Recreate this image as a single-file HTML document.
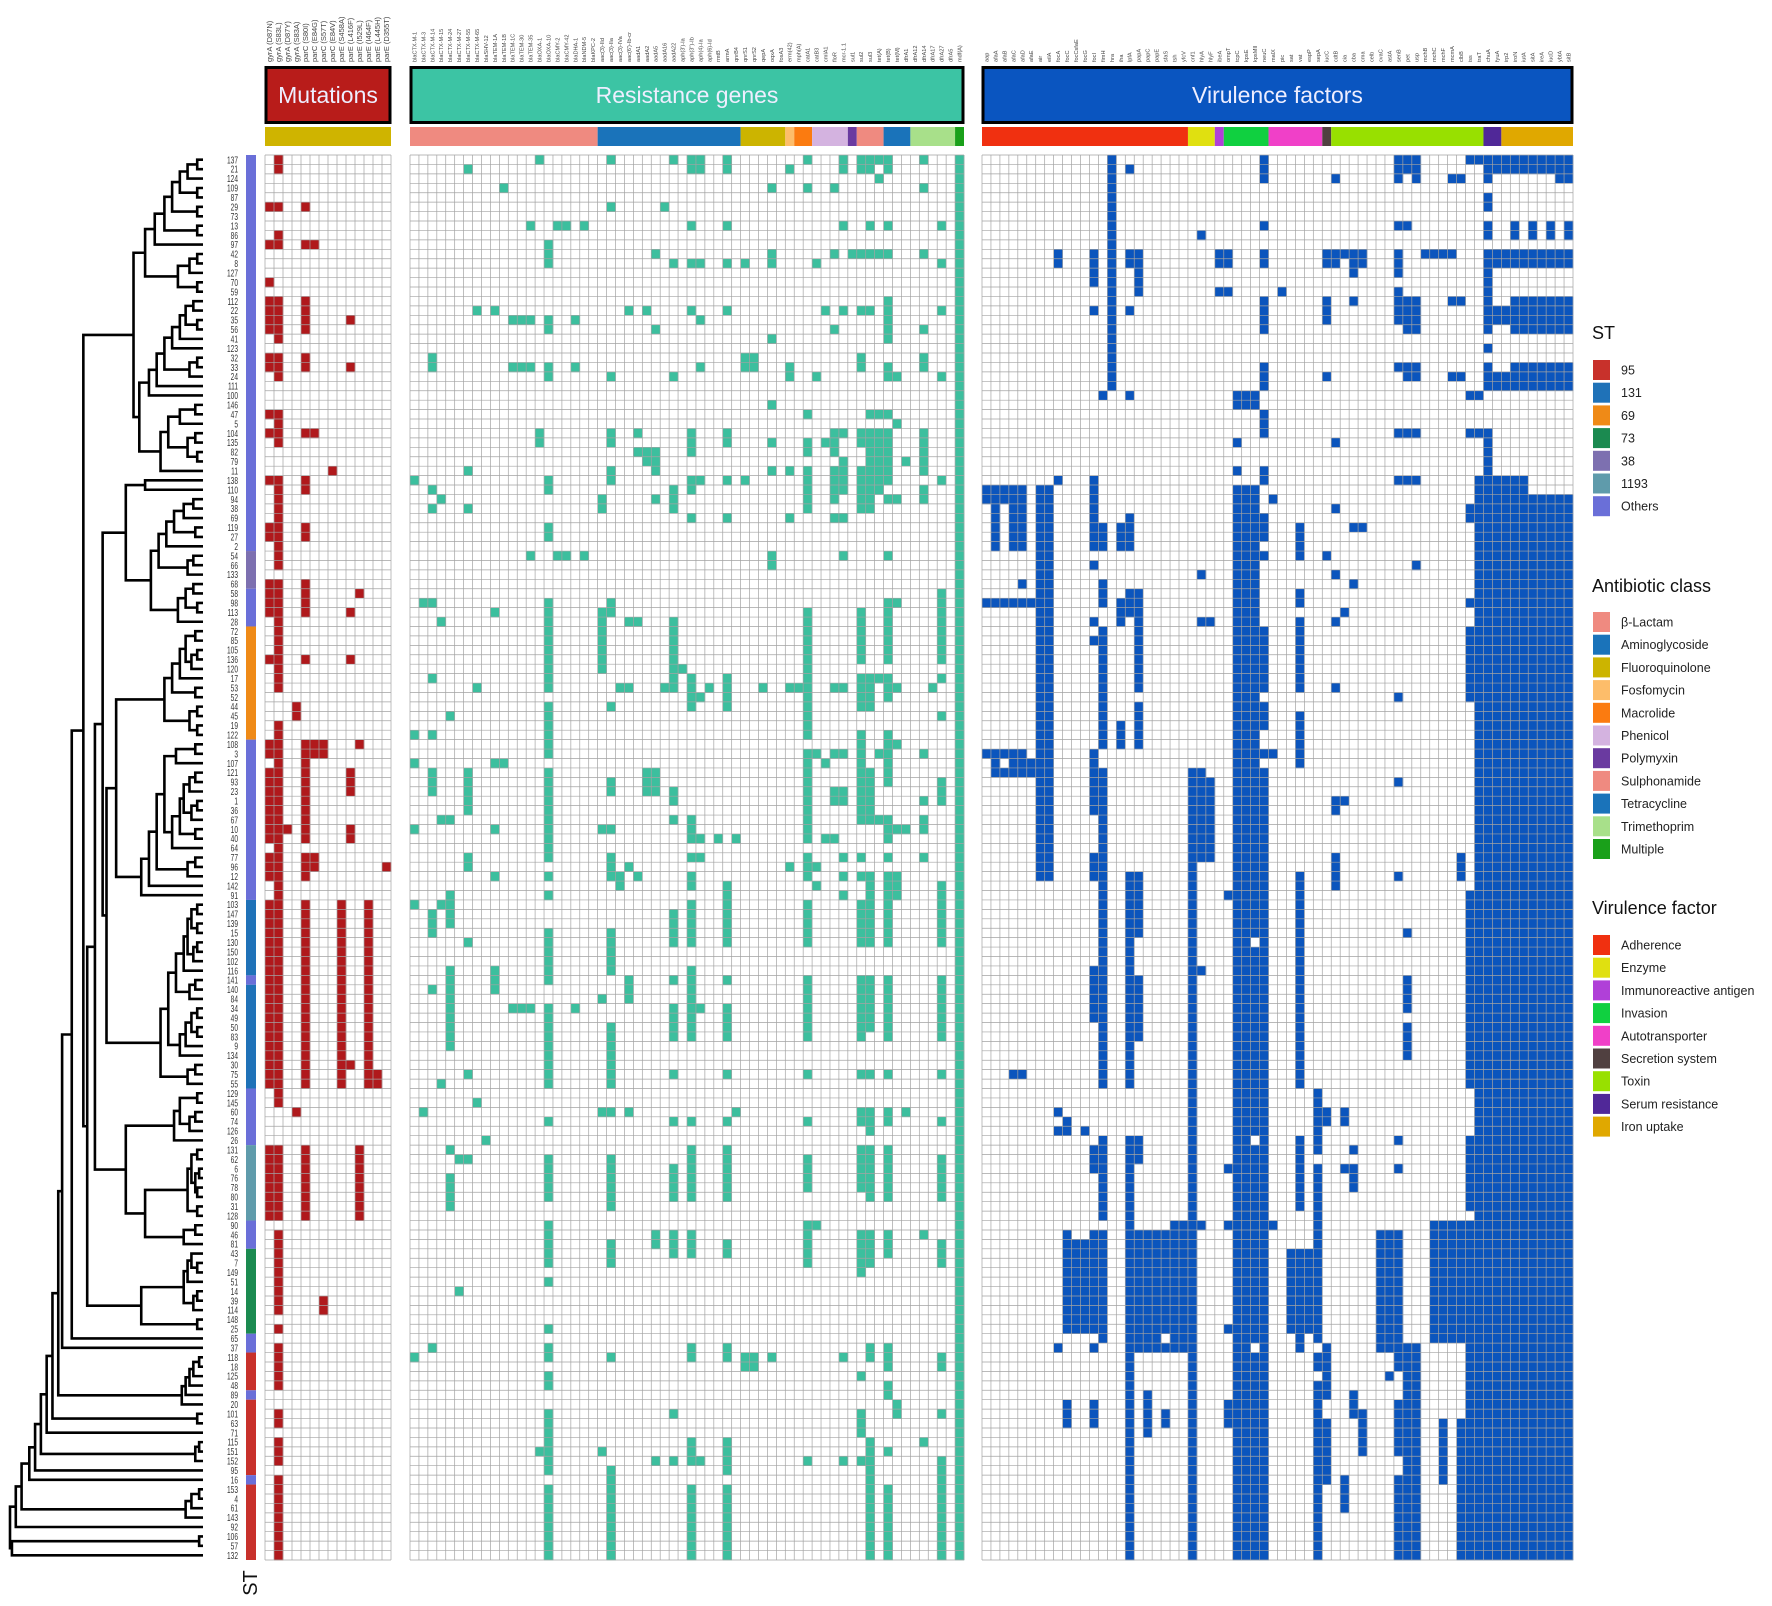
<!DOCTYPE html>
<html><head><meta charset="utf-8">
<style>
html,body{margin:0;padding:0;background:#fff;}
svg{display:block;font-family:"Liberation Sans",Arial,sans-serif;}
</style></head>
<body>
<svg id="chart" width="1772" height="1606" viewBox="0 0 1772 1606" xmlns="http://www.w3.org/2000/svg">
<rect x="0" y="0" width="1772" height="1606" fill="#fff"/>
<g id="dendro"></g>
<g id="rowlabels"></g>
<g id="stbar"></g>
<g id="panels"></g>
<g id="legend"></g>
<text x="257" y="1583" font-size="20" fill="#111" transform="rotate(-90 257 1583)" text-anchor="middle">ST</text>
</svg>
<script>
const rowIds = [137,21,124,109,87,29,73,13,86,97,42,8,127,70,59,112,22,35,56,41,123,32,33,24,111,100,146,47,5,104,135,82,79,11,138,110,94,38,69,119,27,2,54,66,133,68,58,98,113,28,72,85,105,136,120,17,53,52,44,45,19,122,108,3,107,121,93,23,1,36,67,10,40,64,77,96,12,142,91,103,147,139,15,130,150,102,116,141,140,84,34,49,50,83,9,134,30,75,55,129,145,60,74,126,26,131,62,6,76,78,80,31,128,90,46,81,43,7,149,51,14,39,114,148,25,65,37,118,18,125,48,89,20,101,63,71,115,151,152,95,16,153,4,61,143,92,106,57,132];

const mergeHeights = [0.03,0.08,0.12,0.03,0.16,0.03,0.20,0.03,0.25,0.30,0.03,0.07,0.13,0.03,0.36,0.05,0.09,0.03,0.12,0.16,0.20,0.03,0.07,0.24,0.28,0.33,0.04,0.12,0.18,0.04,0.08,0.03,0.22,0.62,0.30,0.40,0.05,0.10,0.15,0.04,0.19,0.23,0.05,0.08,0.27,0.05,0.09,0.03,0.13,0.52,0.04,0.09,0.03,0.06,0.12,0.16,0.04,0.20,0.03,0.07,0.03,0.45,0.04,0.14,0.20,0.04,0.07,0.10,0.03,0.06,0.12,0.04,0.16,0.24,0.04,0.08,0.28,0.32,0.50,0.03,0.06,0.03,0.08,0.03,0.05,0.10,0.14,0.04,0.07,0.18,0.03,0.06,0.03,0.09,0.12,0.22,0.04,0.08,0.56,0.03,0.12,0.04,0.07,0.15,0.40,0.03,0.06,0.02,0.04,0.03,0.08,0.03,0.30,0.04,0.10,0.60,0.06,0.03,0.08,0.10,0.03,0.05,0.32,0.03,0.68,0.73,0.75,0.02,0.05,0.07,0.09,0.11,0.78,0.03,0.81,0.84,0.02,0.04,0.87,0.90,0.94,0.02,0.06,0.09,0.97,1.0,0.02,0.99];

const stNames = ["95","131","69","73","38","1193","Others"];
const stColors = ["#c8312b","#1f72b8","#ef8a17","#1b8a50","#7d70b0","#5f9bab","#6a6fd8"];
const stRuns = [[0,41,6],[42,45,4],[46,49,6],[50,61,2],[62,78,6],[79,86,1],[87,87,6],[88,98,1],[99,104,6],[105,112,5],[113,115,6],[116,124,3],[125,126,6],[127,130,0],[131,131,6],[132,139,0],[140,140,6],[141,148,0]];

const mutLabels = ["gyrA (D87N)","gyrA (S83L)","gyrA (D87Y)","gyrA (S83A)","parC (S80I)","parC (E84G)","parC (S57T)","parC (E84V)","parE (S458A)","parE (L416F)","parE (I529L)","parE (I464F)","parE (L445H)","parE (D355T)"];
const mutCells = ["5,9,13,15-18,21-22,27,29,34,39-40,45-48,53,62-63,65-72,74-76,79-98,105-112","0-1,5,8-9,15-19,21-23,27-30,34-43,45-56,60-78,79-100,105-112,114-122,124,126-130,133-134,136-138,140-148","71","58-59,101","5,9,15-18,21-22,29,34-35,39-40,45-48,53,62-72,74-76,79-98,105-112","9,29,62-63,74-75","62-63,121-122","33","79-98","17,22,48,53,65-67,71-72,96","46,62,105-112","79-98","97-98","75"];

const resLabels = ["blaCTX-M-1","blaCTX-M-3","blaCTX-M-14","blaCTX-M-15","blaCTX-M-24","blaCTX-M-27","blaCTX-M-55","blaCTX-M-65","blaSHV-12","blaTEM-1A","blaTEM-1B","blaTEM-1C","blaTEM-30","blaTEM-35","blaOXA-1","blaOXA-10","blaCMY-2","blaCMY-42","blaDHA-1","blaNDM-5","blaKPC-2","aac(3)-IId","aac(3)-IIa","aac(3)-IVa","aac(6')-Ib-cr","aadA1","aadA2","aadA5","aadA16","aadA22","aph(3')-Ia","aph(3'')-Ib","aph(4)-Ia","aph(6)-Id","rmtB","armA","qnrB4","qnrS1","qnrS2","qepA","oqxA","fosA3","erm(42)","mph(A)","catA1","catB3","cmlA1","floR","mcr-1.1","sul1","sul2","sul3","tet(A)","tet(B)","tet(M)","dfrA1","dfrA12","dfrA14","dfrA17","dfrA27","dfrA5","mdf(A)"];
const resCells = ["34,61,64,71,79,127","47,101","21-22,35,37,47,55,61,65-67,80-82,88,126","36,49,70,79,98","59,70,78-81,86-94,105,108-111","106,120","1,33,37,65-69,74-75,83,97,106","16,56,100","104","16,48,64,71,76,86-88","3,64","17,22,90","17,22,90","7,17,22,42,90","0,29-30,137","9-11,17-18,22-23,34-35,39-40,47-56,58-63,65-74,76,78,82-87,90-98,102,106-110,113-117,119,124,126-127,129-130,133-139,141-148","7,42","7,42","17,22,90","7,42","","36-37,48-54,71,89,101,137","0,5,23,29-30,33-34,47-48,58,66-67,71,74-76,82-86,92-98,101,106-111,115-117,127,139-148","56,76-77","16,49,56,75,87-89,101","29,31,49,76","16,31-32,65-67","10,18,31-33,36,65-67,114-115,138","5,56","0,11,23,35-37,49-56,67-68,70,80-83,87,90-93,97,102,107-110,114-116,133,138","54","0-1,7,11,16,29-31,34-35,38,55-58,70-72,74,76-77,79-83,86-93,102,105-110,114-116,126-127,136-138,141-148","0-1,11,17,22,34,57,72,74,90,138","56","72","0-1,7,11,16,29-30,34,38,55-58,77-83,87,90-93,97,102,105-110,115-116,126-127,136-139,141-148","72,101","11,21-22,34,127-128","21-22,127-128","56","3,10-11,19,26,30,33,42-43,127","","1,22-23,33,38,56,75","56","0,3,27,30-31,33-37,48-54,55-61,63-67,68-72,74-76,79-83,87-93,97,102,106-109,113-117,138","11,23,63,75,77,113","16,30,64,72","3,10,18,29-31,33-36,38,56,63,67-68,72","0-1,7,16,29,32-35,38,42,56,63,67-68,74,76,78,127,138","10","0-1,10,16,21-22,29-30,33-37,48-53,55-58,61-70,74,76,79-83,87-93,97,101-102,105-109,114-118,129,133-135,138","0-1,7,10,16,27,29-37,55-58,65-70,76-83,87-92,97,101-103,105-110,114-117,126-127,136-148","0,2,10,27,29-35,55,63,70","0-1,7,10,15-19,22-23,27,29-34,36,42,47-53,55-57,61-66,70-72,74,76-83,87-93,97,101-102,105-110,114-116,126-128,130-131,137,141-148","23,28,36,47,56,62,71,76-78,132-133","32,71,101","","0,3,10,18,21-22,29-33,35-36,63,68,70-71,74,114,136","56","7,11,16,23,34,46-53,55,59,66-68,77-83,87-93,97,102,106-110,115-117,127-128,133,138-148","","0-148"];
const resClassNames = ["β-Lactam","Aminoglycoside","Fluoroquinolone","Fosfomycin","Macrolide","Phenicol","Polymyxin","Sulphonamide","Tetracycline","Trimethoprim","Multiple"];
const resClassColors = ["#ef8a80","#1a73ba","#ccb400","#fdbd6a","#fb7b10","#d4b3e0","#6a3aa0","#ef8a80","#1a73ba","#a8e08a","#1aa01a"];
const resClassSpans = [21,16,5,1,2,4,1,3,3,5,1];

const virLabels = ["aap","afaA","afaB","afaC","afaD","afaE","air","eilA","focA","focC","focCsfaE","focG","focI","fimH","hra","iha","lpfA","papA","papC","papE","sfaS","tsh","yfcV","cnf1","hlyA","hlyF","ibeA","ompT","tcpC","kpsE","kpsMII","neuC","malX","pic","sat","vat","espP","sepA","iucC","cdtB","cia","cba","cma","celb","cvaC","astA","senB","pet","usp","mchB","mchC","mchF","mcmA","clbB","iss","traT","chuA","fyuA","irp2","iroN","iutA","sitA","ireA","iucD","ybtA","sitB"];
const virCells = ["35-36,47,63","35-41,47,63-65","35-36,47,63,65","35-41,47,63-65,97","35-41,45,47,63-65,97","47,64-65","35-76","35-76","10-11,34,101,103,126","102-103,114-124,132-134","115-124","103,115-124","10-13,16,34-41,43,49,51,63-69,74-76,86-91,105-107,114-124,126,132-134","25,39-41,45-47,50-62,65-98,104-112,114-125","0-24","39-41,47-49,60-62","1,10-11,16,25,38-41,46-48,76-98,104-148","10-14,46-56,58-62,76-82,87-93,104-106,114-126","114-126,131-135","114-126","114-124,126,133-134","113-126","113-126","65-148","8,44,49,65-74,86,113","49,66-74","10-11,14","10-11,14,78,107,113,124,132-134","25-26,30,33,35-148","25-26,35-148","25-26,35-82,84-103,105-125,127-148","0-2,7,10-11,15-18,22-24,27-29,33-34,38-40,42,50-56,58-60,63,65-148","36,63,113","14","116-124","39-42,46-47,49-56,59-64,76-98,104-111,116-126","116-124","99-105,107-125,127-128,130-148","10-11,15-17,23,42,101-102,126-131,134-140","2,10-11,30,37,44,49,56,68-69,74-77","10,48,68,101-102,107,140-143","10-12,15,39,45,105,107-109,131-133","10-11,39,133-137","","114-126","114-126,129","0-2,7,10-12,14-17,22,29,34,57,66,76,104,107,114-128,132-137,140-148","0-1,7,15-18,22-23,29,34,82,87-90,92-95,126-148","0-2,15-18,22-23,29,34,43,126-148","10","10,113-125","10,113-125,134-140","2,10,15,23,113-125","2,15,23,74-76,113-125,134-148","0,25,29,37-38,47,50-57,78-98,104-111,113-148","0,25,29,34-148","0-2,4-5,7-8,10-18,20,22-24,29-148","0-1,10-11,16-17,23-24,34-148","0-1,10-11,16-17,23-24,34-148","0-1,7-8,10-11,15-18,22-24,34-148","0-1,10-11,15-18,22-24,34-148","0-1,7-8,10-11,15-18,22-24,36-148","0-1,10-11,15-18,22-24,36-148","0-1,7-8,10-11,15-18,22-24,36-148","0-2,10-11,15-18,22-24,36-148","0-2,7-8,10-11,15-18,22-24,36-148"];
const virClassNames = ["Adherence","Enzyme","Immunoreactive antigen","Invasion","Autotransporter","Secretion system","Toxin","Serum resistance","Iron uptake"];
const virClassColors = ["#f03010","#e0e010","#b040d8","#10d040","#f040c8","#504040","#98e000","#502898","#e0a800"];
const virClassSpans = [23,3,1,5,6,1,17,2,8];

const NS = "http://www.w3.org/2000/svg";
const TOP = 155, BOTTOM = 1560;
const nRows = rowIds.length;
const RH = (BOTTOM - TOP) / nRows;
function yRow(i){ return TOP + i * RH; }
function mk(tag, attrs, parent){ const e = document.createElementNS(NS, tag); for (const k in attrs) e.setAttribute(k, attrs[k]); parent.appendChild(e); return e; }
function parseRuns(s){ const set = new Set(); if(!s) return set; s.split(",").forEach(p=>{ const [a,b] = p.split("-").map(Number); const e = (b===undefined)?a:b; for(let r=a;r<=e;r++) set.add(r); }); return set; }

// Dendrogram
const dg = document.getElementById("dendro");
const LEAFX = 203, DSCALE = 193;
function build(lo, hi){
  if (lo === hi) return {x: LEAFX, y: yRow(lo) + RH/2};
  let k = lo; for (let i = lo; i < hi; i++) if (mergeHeights[i] > mergeHeights[k]) k = i;
  const L = build(lo, k), R = build(k+1, hi);
  const x = LEAFX - mergeHeights[k] * DSCALE;
  const p = mk("path", {d:`M${L.x},${L.y}H${x}V${R.y}H${R.x}`, fill:"none", stroke:"#000", "stroke-width":"2.6"}, dg);
  
  
  return {x: x, y: (L.y + R.y)/2};
}
build(0, nRows - 1);

// Row labels
const rl = document.getElementById("rowlabels");
rowIds.forEach((id, i) => {
  const t = mk("text", {x: 0, y: 0, "font-size": "10", fill: "#333", "text-anchor": "end",
    transform: `translate(238,${yRow(i) + RH/2 + 3.6}) scale(0.66,1)`}, rl);
  
  
  t.textContent = id;
});

// ST bar
const sb = document.getElementById("stbar");
stRuns.forEach(r => {
  const e = mk("rect", {x: 246, y: yRow(r[0]), width: 10, height: (r[1]-r[0]+1)*RH, fill: stColors[r[2]]}, sb);
  
  
});

// Panels
const pg = document.getElementById("panels");
function panel(name, x0, x1, title, boxColor, labels, cells, cellColor, spans, spanColors, labelSize){
  const g = mk("g", {}, pg);
  
  
  const n = labels.length, cw = (x1 - x0) / n;
  const box = mk("rect", {x: x0 + 1, y: 67.5, width: x1 - x0 - 2, height: 55, fill: boxColor, stroke: "#000", "stroke-width": "3"}, g);
  
  
  const tt = mk("text", {x: (x0 + x1)/2, y: 103, "font-size": "23", fill: "#eef", "text-anchor": "middle"}, g);
  
  
  tt.textContent = title;
  let c = 0;
  spans.forEach((s, j) => {
    const r = mk("rect", {x: x0 + c*cw, y: 127, width: s*cw, height: 19, fill: spanColors[j]}, g);
    
    
    c += s;
  });
  labels.forEach((lab, j) => {
    const cx = x0 + (j + 0.5)*cw + labelSize*0.35;
    const t = mk("text", {x: cx, y: 62, "font-size": labelSize, fill: "#444", transform: `rotate(-90 ${cx} 62)`}, g);
    
    
    t.textContent = lab;
  });
  mk("rect", {x: x0, y: TOP, width: x1 - x0, height: BOTTOM - TOP, fill: "#fff"}, g);
  cells.forEach((s, j) => {
    parseRuns(s).forEach(r => {
      if (r >= nRows) return;
      const e = mk("rect", {x: x0 + j*cw, y: yRow(r), width: cw + 0.3, height: RH + 0.3, fill: cellColor}, g);
      
      
    });
  });
  let d = "";
  for (let j = 0; j <= n; j++) d += `M${(x0 + j*cw).toFixed(2)},${TOP}V${BOTTOM}`;
  for (let i = 0; i <= nRows; i++) d += `M${x0},${yRow(i).toFixed(2)}H${x1}`;
  const gp = mk("path", {d: d, stroke: "#a3a3a3", "stroke-width": "0.7", fill: "none"}, g);
  
  
}
panel("mutations", 265, 391, "Mutations", "#b81c1a", mutLabels, mutCells, "#b0191c", [14], ["#cfb400"], 7.5);
panel("resistance", 410, 964, "Resistance genes", "#3cc4a4", resLabels, resCells, "#3cbf9e", resClassSpans, resClassColors, 5.6);
panel("virulence", 982, 1573, "Virulence factors", "#0a55c0", virLabels, virCells, "#0b55bd", virClassSpans, virClassColors, 5.6);

// Legend
const lg = document.getElementById("legend");
function legendBlock(name, title, ty, names, colors, y0){
  const t = mk("text", {x: 1592, y: ty + 6, "font-size": "18", fill: "#111"}, lg);
  
  
  t.textContent = title;
  names.forEach((nm, i) => {
    const cy = y0 + i*22.7;
    const r = mk("rect", {x: 1593, y: cy - 10, width: 17, height: 20, fill: colors[i]}, lg);
    
    
    const tx = mk("text", {x: 1621, y: cy + 4.5, "font-size": "12.5", fill: "#222"}, lg);
    
    
    tx.textContent = nm;
  });
}
legendBlock("st", "ST", 333, stNames, stColors, 370);
legendBlock("antibiotic-class", "Antibiotic class", 586, resClassNames, resClassColors, 622);
legendBlock("virulence-factor", "Virulence factor", 908, virClassNames, virClassColors, 945);
</script>
</body></html>
